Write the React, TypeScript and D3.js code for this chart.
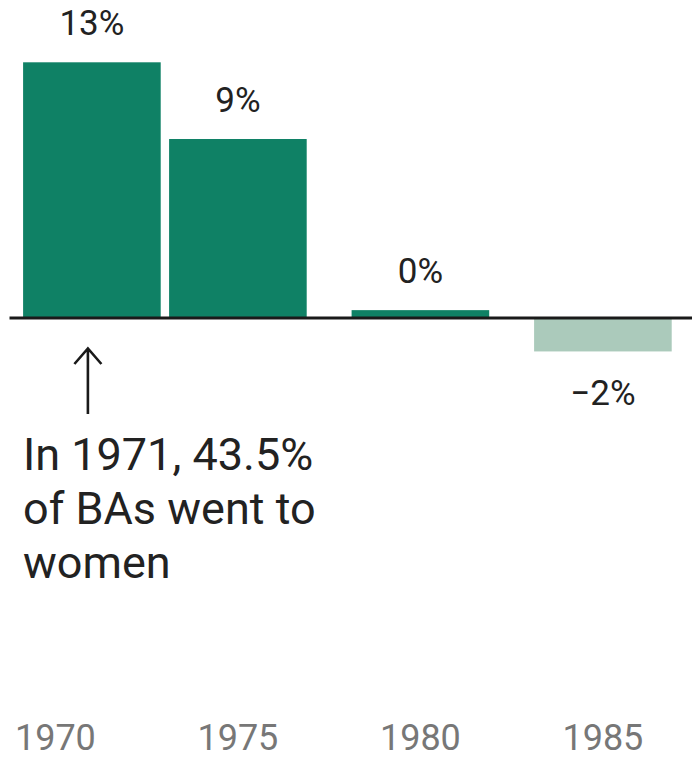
import { useEffect } from 'react'
import * as d3 from 'd3'

// change in share of BAs going to women, by period
const years = [1971, 1975, 1980, 1985]
const changes = [13.0, 9.1, 0.4, -1.7]
const valueLabels = ['13%', '9%', '0%', '−2%']
const tickYears = [1970, 1975, 1980, 1985]
const noteLines = ['In 1971, 43.5%', 'of BAs went to', 'women']

const width = 692
const height = 761
const barYears = 3.77

const App = () => {
  useEffect(() => {
    document.body.style.margin = '0'
  }, [])

  const x = d3.scaleLinear().domain([1970, 1985]).range([55.4, 602.9])
  const y = d3.scaleLinear().domain([0, 13]).range([318, 62.3])
  const bw = x(1970 + barYears) - x(1970)

  const font = 'Roboto, "Noto Sans", sans-serif'
  const ax = x(years[0]) - 4

  return (
    <svg width={width} height={height} style={{ display: 'block', fontFamily: font }}>
      {years.map((yr, i) => {
        const v = changes[i]
        const top = Math.min(y(v), y(0))
        const h = Math.abs(y(v) - y(0))
        return (
          <rect
            key={yr}
            x={x(yr) - bw / 2}
            y={top}
            width={bw}
            height={h}
            fill={v < 0 ? '#abcabb' : '#0f8165'}
          />
        )
      })}
      <line x1={9.5} x2={width} y1={y(0)} y2={y(0)} stroke="#1a1a1a" strokeWidth={3} />
      {years.map((yr, i) => {
        const v = changes[i]
        const ty = v < 0 ? y(v) + 54 : y(v) - 27
        return (
          <text key={yr} x={x(yr)} y={ty} textAnchor="middle" fontSize={35} fill="#222">
            {valueLabels[i]}
          </text>
        )
      })}
      <path
        d={`M${ax},414 L${ax},348 M${ax - 13.5},364 L${ax},348.5 L${ax + 13.5},364`}
        fill="none"
        stroke="#1a1a1a"
        strokeWidth={2.6}
      />
      <text fontSize={45} fill="#222">
        {noteLines.map((t, i) => (
          <tspan key={t} x={23} y={470 + i * 54}>
            {t}
          </tspan>
        ))}
      </text>
      {tickYears.map((t) => (
        <text key={t} x={x(t)} y={750} textAnchor="middle" fontSize={36} fill="#777">
          {t}
        </text>
      ))}
    </svg>
  )
}

export default App
